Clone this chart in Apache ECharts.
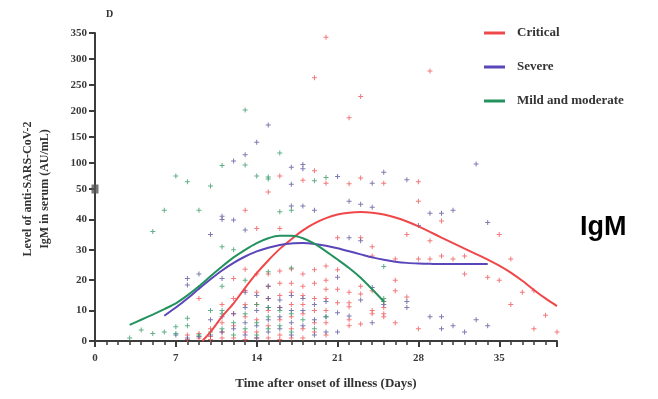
<!DOCTYPE html>
<html>
<head>
<meta charset="utf-8">
<script src="https://cdn.jsdelivr.net/npm/echarts@6/dist/echarts.min.js"></script>
<style>html,body{margin:0;padding:0;background:#fff}#c{width:658px;height:399px}</style>
</head>
<body>
<div id="c"></div>
<script>
// ---- data ----
var seriesNames = ['Critical', 'Severe', 'Mild and moderate'];
var xTicks = [0, 7, 14, 21, 28, 35];
var yTicksLow = [0, 10, 20, 30, 40];
var yTicksHigh = [50, 100, 150, 200, 250, 300, 350];

// individual measurements [day, AU/mL]
var criticalPts = [
  [16,75],[18,67],[19,85],[19,264],[20,342],[20,61],[22,187],[22,60],[23,228],[23,71],[25,61],[28,64],[29,277],
  [13,43],[14,37],[15,49],[16,37],[21,34],[23,34],[24,31],[24,28],[28,46],[30,39.5],[35,35],[27,35],[29,33],
  [28,27],[29,27],[30,28],[31,27],[32,28],[32,22],[34,21],[35,20],[36,27],[36,12],[37,16],[38,16.5],[39,8.5],
  [38,4],[40,3],[28,4],[26,6],[26,20],[26,16.5],[26,27],[27,14.5],
  [9,14],[12,20.6],[13,23.6],[13,16.6],[14,22],[15,22],[16,23],[17,23.7],[18,22],[19,23.4],[20,24.7],[21,23.4],
  [21,17],[21,12.6],[22,16],[22,12.6],[22,11.3],[22,7],[22,5],[23,18],[23,15.5],[23,5.6],[24,16.5],[24,10],[24,9],
  [25,13],[25,11],[25,9],[25,8],
  [8,2],[8,0.5],[9,2.5],[9,1],[10,4],[10,1.5],[10,0.5],[11,12],[11,6],[11,3],[11,1],[12,14],[12,9],[12,5],[12,1],
  [13,12],[13,8],[13,3],[13,0.5],[14,16],[14,12],[14,7],[14,3],[14,1],[15,18],[15,14],[15,10],[15,5],[15,1],
  [16,19],[16,15],[16,11],[16,7],[16,2],[16,0.5],[17,19],[17,16],[17,12],[17,8],[17,4],[17,1],
  [18,18],[18,15],[18,12],[18,9],[18,4],[18,1],[19,19],[19,14],[19,10],[19,6],[19,3],
  [20,20],[20,17],[20,14],[20,10],[20,6],[20,2]
];
var severePts = [
  [12,104],[13,116],[14,140],[15,173],[17,92],[17,59],[18,97],[18,89],[21,74],[24,61],[25,82],[27,68],[33,98],
  [10,35],[11,41],[11,40],[12,39.8],[13,36.5],[17,44.4],[18,44.4],[19,43],[22,46],[23,45],[24,44],[28,38],[29,42],
  [30,42],[31,43],[34,39],[22,34],[23,33],[21,21],[8,20.6],[8,18.4],[9,22],[11,20.6],[15,18],[24,17.6],[23,13.5],
  [27,13],[27,11],[22,8.2],[21,9.3],[21,3],[24,6],[29,8],[30,8],[30,4],[31,5],[32,3],[33,7],[34,5],
  [7,2],[8,1],[9,1.5],[10,7],[10,2],[11,8],[11,3],[12,9],[12,4],[13,16],[13,11],[13,6],[13,2],[14,15],[14,10],
  [14,5],[14,1],[15,14],[15,11],[15,7],[15,3],[16,13.5],[16,11],[16,8],[16,4],[17,15],[17,10],[17,6],[17,2],
  [18,14],[18,10],[18,5],[19,12],[19,7],[19,2],[20,13],[20,8],[20,3],[25,12]
];
var mildPts = [
  [7,75],[8,64],[10,56],[11,95],[13,202],[13,96],[14,75],[15,73],[15,69],[16,119],[19,66],[20,72],
  [5,36],[6,43],[9,43],[11,31],[12,30],[16,42.5],[17,43],[15,22.8],[17,24],[25,24.5],[25,14],[11,18],[9,17.6],
  [11,10],[13,20],
  [3,1],[4,3.6],[5,2.5],[6,3],[7,4.7],[7,2.5],[8,7.5],[8,5],[9,2],[10,10],[10,3],[11,9],[11,4],[12,6],[12,2],
  [13,9],[13,4],[14,12],[14,6],[14,2],[15,11],[15,8],[15,4],[16,10],[16,5],[17,9],[17,3],[18,7],[19,4],[20,8],[25,13]
];

// fitted trend curves [day, AU/mL]
var criticalFit = [[9.3,0],[10,3],[11,8],[12,12.4],[13,17.5],[14,22.3],[15,26.5],[16,30.3],[17,33.5],[18,36.4],
  [19,38.7],[20,40.4],[21,41.6],[22,42.2],[23,42.4],[24,42.2],[25,41.6],[26,40.6],[27,39.3],[28,37.7],[29,35.9],
  [30,34],[31,32.2],[32,30.4],[33,28.6],[34,26.8],[35,24.8],[36,22.5],[37,19.8],[38,16.8],[39,14],[40,11.5]];
var severeFit = [[6,8.3],[7,11],[8,14],[9,17.2],[10,20.3],[11,23.2],[12,25.7],[13,27.8],[14,29.5],[15,30.7],
  [16,31.6],[17,32.1],[18,32.2],[19,31.9],[20,31.3],[21,30.5],[22,29.5],[23,28.5],[24,27.5],[25,26.7],[26,26.1],
  [27,25.7],[28,25.5],[29,25.4],[30,25.3],[31,25.3],[32,25.3],[33,25.3],[34,25.3]];
var mildFit = [[3,5.3],[4,7],[5,8.7],[6,10.5],[7,12.4],[8,15],[9,18],[10,21.3],[11,24.5],[12,27.5],[13,30],
  [14,32.2],[15,33.8],[16,34.6],[17,34.6],[18,33.8],[19,32],[20,29.5],[21,26.8],[22,24],[23,20.8],[24,17],[25,13]];

var breakMark = [[0, 50]];

// ---- chart ----
var colors = ['#f0474a', '#5a46b8', '#23925e'];
var ptColors = ['#f0575a', '#5e5a9c', '#3b9c6c'];
var serif = 'Liberation Serif';
var axisCol = '#3c3c3c';
var plus = 'path://M2,0H3V2H5V3H3V5H2V3H0V2H2Z';

function low(p){ return p.filter(function(d){ return d[1] <= 50; }); }
function high(p){ return p.filter(function(d){ return d[1] > 50; }); }

var chart = echarts.init(document.getElementById('c'), null, {renderer: 'canvas'});
var labelStyle = {fontFamily: serif, fontWeight: 'bold', fontSize: 11, color: '#3a3a3a'};

var allPts = [criticalPts, severePts, mildPts];
var series = [];
allPts.forEach(function(p, i){
  series.push({type: 'scatter', name: seriesNames[i] + ' pts', xAxisIndex: 0, yAxisIndex: 0, data: low(p),
    symbol: plus, symbolSize: 5, itemStyle: {color: ptColors[i]}, silent: true, z: 2});
  series.push({type: 'scatter', name: seriesNames[i] + ' pts hi', xAxisIndex: 1, yAxisIndex: 1, data: high(p),
    symbol: plus, symbolSize: 5, itemStyle: {color: ptColors[i]}, silent: true, z: 2});
});
var fits = [criticalFit, severeFit, mildFit];
fits.forEach(function(f, i){
  series.push({type: 'line', name: seriesNames[i], xAxisIndex: 0, yAxisIndex: 0, data: f, smooth: 0.25,
    symbol: 'none', lineStyle: {color: colors[i], width: 2}, itemStyle: {color: colors[i]}, z: 5});
});
series.push({type: 'scatter', name: 'break', xAxisIndex: 1, yAxisIndex: 1, data: breakMark, symbol: 'rect',
  symbolSize: [7, 9], itemStyle: {color: '#555'}, clip: false, z: 10, silent: true});

chart.setOption({
  animation: false,
  backgroundColor: '#fff',
  grid: [
    {left: 95, width: 462, top: 189, height: 152},
    {left: 95, width: 462, top: 33, height: 156}
  ],
  legend: {
    data: seriesNames.map(function(n){ return {name: n, icon: 'rect'}; }),
    orient: 'vertical', left: 479, top: 21, itemGap: 20, itemWidth: 21, itemHeight: 3,
    textStyle: {fontFamily: serif, fontWeight: 'bold', fontSize: 13, color: '#333', padding: [0, 0, 0, 7],
      lineHeight: 14, height: 14}
  },
  xAxis: [
    {gridIndex: 0, type: 'value', min: 0, max: 40, interval: 7,
      axisLine: {lineStyle: {color: axisCol, width: 2}},
      axisTick: {length: 6, lineStyle: {color: axisCol, width: 2}},
      minorTick: {show: true, splitNumber: 7, length: 4, lineStyle: {color: axisCol, width: 1.5}},
      axisLabel: {margin: 12, showMaxLabel: false, formatter: function(v){ return xTicks.indexOf(v) >= 0 ? String(v) : ''; }, fontFamily: serif, fontWeight: 'bold', fontSize: 11, color: '#3a3a3a'},
      splitLine: {show: false},
      name: 'Time after onset of illness (Days)', nameLocation: 'middle', nameGap: 36,
      nameTextStyle: {fontFamily: serif, fontWeight: 'bold', fontSize: 13, color: '#333'}
    },
    {gridIndex: 1, type: 'value', min: 0, max: 40, show: false}
  ],
  yAxis: [
    {gridIndex: 0, type: 'value', min: 0, max: 50, interval: 10,
      axisLine: {show: true, lineStyle: {color: axisCol, width: 2}},
      axisTick: {show: true, length: 6, lineStyle: {color: axisCol, width: 2}},
      axisLabel: Object.assign({margin: 8, showMaxLabel: false}, labelStyle),
      splitLine: {show: false}
    },
    {gridIndex: 1, type: 'value', min: 50, max: 350, interval: 50,
      axisLine: {show: true, lineStyle: {color: axisCol, width: 2}},
      axisTick: {show: true, length: 6, lineStyle: {color: axisCol, width: 2}},
      axisLabel: Object.assign({margin: 8}, labelStyle),
      splitLine: {show: false}
    }
  ],
  graphic: [
    {type: 'text', left: 106, top: 9, style: {text: 'D', font: 'bold 10px "Liberation Serif"', fill: '#333'}},
    {type: 'text', left: 580, top: 214, style: {text: 'IgM', font: 'bold 27px "Liberation Sans"', fill: '#000'}},
    {type: 'text', x: 28, y: 189, rotation: Math.PI / 2,
      style: {text: 'Level of anti-SARS-CoV-2', font: 'bold 12px "Liberation Serif"', fill: '#333', align: 'center', verticalAlign: 'middle'}},
    {type: 'text', x: 45, y: 189, rotation: Math.PI / 2,
      style: {text: 'IgM in serum (AU/mL)', font: 'bold 12px "Liberation Serif"', fill: '#333', align: 'center', verticalAlign: 'middle'}}
  ],
  series: series
});
</script>
</body>
</html>
